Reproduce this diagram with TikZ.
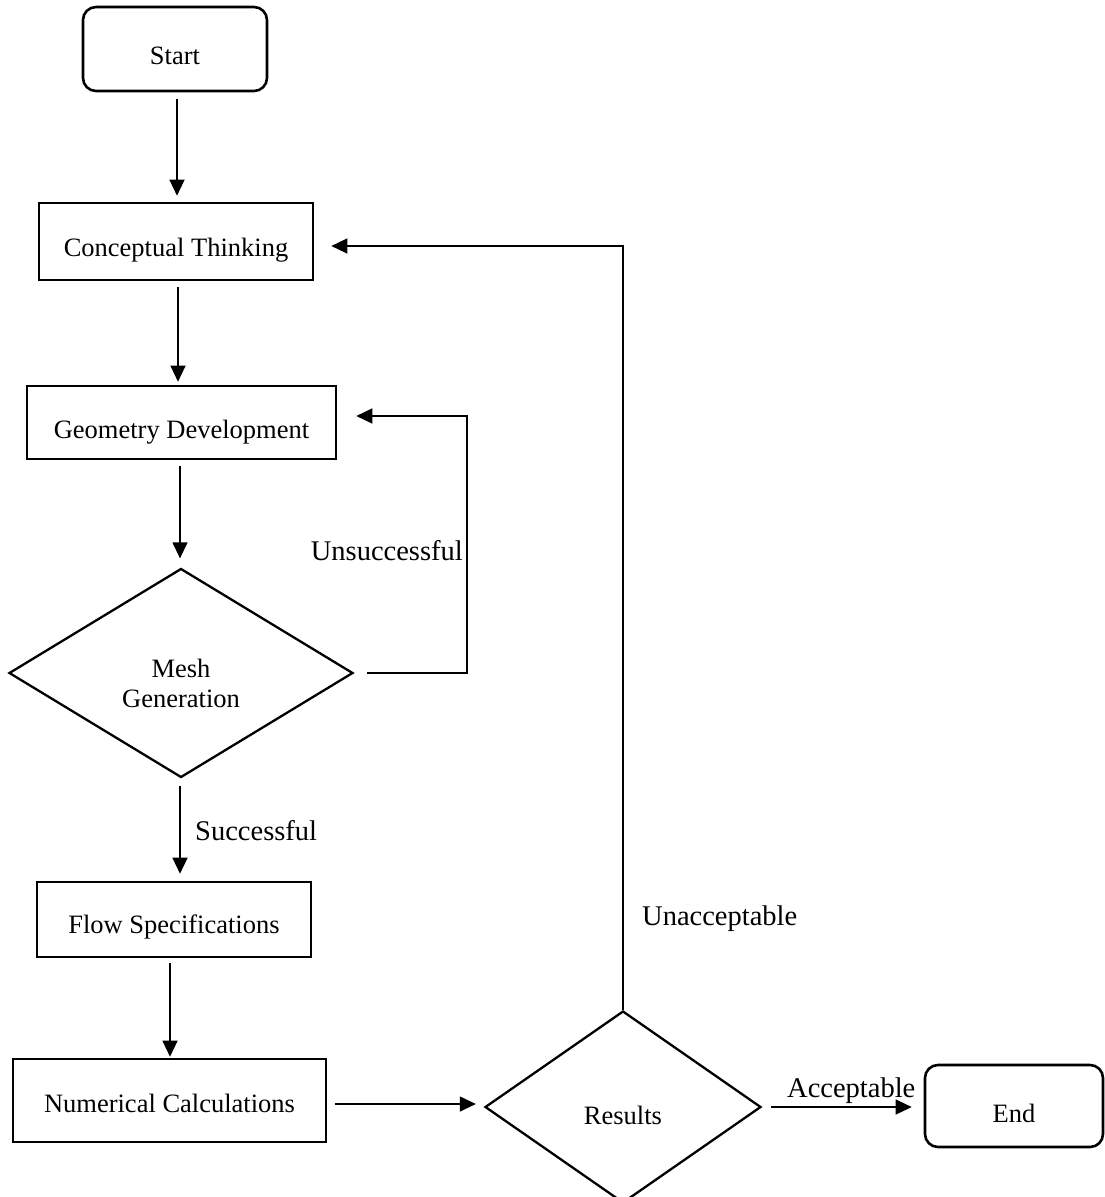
\documentclass[tikz,border=0pt]{standalone}
\usepackage{fontspec}
\setmainfont{Liberation Serif}
\usetikzlibrary{shapes.geometric,arrows.meta}
\begin{document}
\begin{tikzpicture}[x=1pt,y=-1pt,
  box/.style={draw, line width=2.6pt, inner sep=0pt, font=\fontsize{26.5}{30}\selectfont, text depth=0pt},
  rbox/.style={box, rounded corners=13pt},
  dec/.style={draw, diamond, line width=2.3pt, inner sep=0pt, font=\fontsize{26.5}{30}\selectfont, align=center},
  tb/.style={text height=#1},
  arr/.style={line width=1.3pt, -{Triangle[length=16pt,width=15pt]}},
  lbl/.style={font=\fontsize{28.5}{32}\selectfont, inner sep=0pt}
]
\useasboundingbox (0,0) rectangle (1104,1197);

\node[rbox, tb=30pt, minimum width=184pt, minimum height=84pt] (start) at (175,49) {Start};
\node[box, tb=29pt, minimum width=274pt, minimum height=77pt] (concept) at (176,241.5) {Conceptual Thinking};
\node[box, tb=31pt, minimum width=309pt, minimum height=73pt] (geom) at (181.5,422.5) {Geometry Development};
\node[dec, text height=68pt, text depth=0pt, minimum width=344pt, minimum height=209pt] (mesh) at (181,673) {Mesh\\Generation};
\node[box, tb=27pt, minimum width=274pt, minimum height=75pt] (flow) at (174,919.5) {Flow Specifications};
\node[box, tb=23pt, minimum width=313pt, minimum height=83pt] (num) at (169.5,1100.5) {Numerical Calculations};
\node[dec, text height=34pt, text depth=0pt, minimum width=276pt, minimum height=192pt] (res) at (623,1107) {Results};
\node[rbox, tb=32pt, minimum width=178pt, minimum height=82pt] (end) at (1014,1106) {End};

\draw[arr, shorten <=7pt, shorten >=6pt] ([xshift=2pt]start.south) -- ([xshift=2pt]start.south |- concept.north);
\draw[arr, shorten <=6pt, shorten >=3pt] ([xshift=2pt]concept.south) -- ([xshift=2pt]concept.south |- geom.north);
\draw[arr, shorten <=6pt, shorten >=9pt] ([xshift=-1.5pt]geom.south) -- ([xshift=-1.5pt]geom.south |- mesh.north);
\draw[arr, shorten <=7pt, shorten >=7pt] ([xshift=-1pt]mesh.south) -- ([xshift=-1pt]mesh.south |- flow.north);
\draw[arr, shorten <=5pt, shorten >=1pt] ([xshift=-4pt]flow.south) -- ([xshift=-4pt]flow.south |- num.north);
\draw[arr, shorten <=8pt, shorten >=8pt] ([yshift=-3.5pt]num.east) -- ([yshift=-3.5pt]num.east -| res.west);
\draw[arr, shorten <=9pt, shorten >=12pt] (res.east) -- (res.east -| end.west);

\coordinate (u1) at (467,673);
\coordinate (u2) at (467,416);
\draw[arr, shorten >=19pt] ([xshift=13pt]mesh.east) -- (u1) -- (u2) -- (u2 -| geom.east);

\coordinate (a1) at (624,246);
\draw[arr, shorten >=17pt] (res.north) -- (res.north |- a1) -- (a1 -| concept.east);

\node[lbl, anchor=base east] (unsucc) at (463,560) {Unsuccessful};
\node[lbl, anchor=base west] (succ) at (195,840) {Successful};
\node[lbl, anchor=base west] (unacc) at (642,925) {Unacceptable};
\node[lbl, anchor=base west] (acc) at (787,1097) {Acceptable};
\end{tikzpicture}
\end{document}
